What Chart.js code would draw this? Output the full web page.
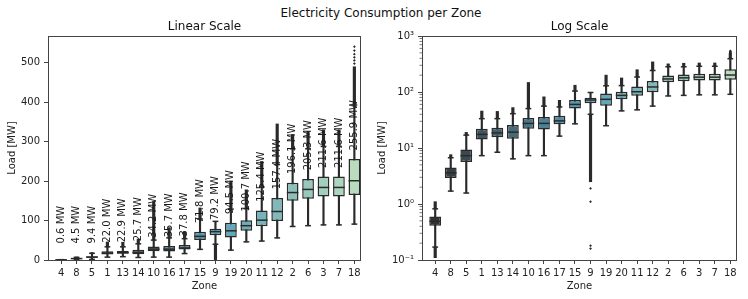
<!doctype html>
<html lang="en">
  <head>
    <meta charset="utf-8">
    <title>Electricity Consumption per Zone</title>
    <style>
      * {
        margin: 0;
        padding: 0;
      }
      body {
        width: 748px;
        height: 299px;
        background: #fff;
        position: relative;
        overflow: hidden;
        font-family: "DejaVu Sans", sans-serif;
      }
      .suptitle {
        position: absolute;
        left: 0;
        top: 6px;
        width: 762px;
        text-align: center;
        font-size: 12px;
        line-height: 14px;
        color: #111;
      }
      .panel {
        position: absolute;
        top: 0;
      }
      #leftPanel { left: 0; }
      #rightPanel { left: 370px; }
    </style>
  </head>
  <body>
    <div class="suptitle">Electricity Consumption per Zone</div>
    <div class="panel" id="leftPanel"><canvas id="linearChart" width="370" height="299"></canvas></div>
    <div class="panel" id="rightPanel"><canvas id="logChart" width="378" height="299"></canvas></div>

    <script src="https://cdn.jsdelivr.net/npm/chart.js"></script>
    <script>
    // data (MW)
    const zones = ['4','8','5','1','13','14','10','16','17','15','9','19','20','11','12','2','6','3','7','18'];
    const q1Load = [0.41, 2.9, 5.6, 14.2, 15.6, 14.6, 22.0, 21.5, 26.5, 50.5, 62.8, 57, 74, 85.6, 99, 150, 155, 161, 161, 165];
    const medianLoad = [0.49, 3.6, 7.3, 17.5, 18.6, 19.2, 27.5, 27.5, 30.5, 60, 72, 74, 87, 101, 123, 171, 179, 184, 184, 201];
    const q3Load = [0.6, 4.5, 9.4, 22.0, 22.9, 25.7, 34.2, 35.7, 37.8, 71.8, 79.2, 94.5, 100.7, 125.4, 157.4, 196.1, 205.3, 211.6, 211.6, 255.9];
    const whiskerLow = [0.17, 1.7, 1.57, 7.3, 8.4, 6.4, 7.3, 7.3, 16.3, 27, 40, 25, 46, 48, 56, 85, 87, 89, 89, 91];
    const whiskerHigh = [0.82, 6.7, 17, 33.4, 33.4, 41, 50.5, 56, 54, 104, 98, 129, 130, 185, 242, 282, 282, 288, 288, 393];
    const outlierTop = [1.1, 7.6, 19, 45.7, 45, 52.7, 148, 82, 71, 132, null, 200, 178, 250, 345, 318, 326, 330, 330, 490];
    const outlierBottom = [0.11, null, null, null, null, null, null, null, null, null, 2.5, null, null, null, null, null, null, null, null, null];
    const zone9LowOutliers = [1.9, 1.1, 0.18, 0.16];
    const zone18HighOutliers = [498, 506, 514, 522, 531, 541];
    const linearTicks = [0, 100, 200, 300, 400, 500];
    const logTicks = [0.1, 1, 10, 100, 1000];

    Chart.defaults.font.family = '"DejaVu Sans", sans-serif';
    Chart.defaults.font.size = 10;
    Chart.defaults.color = '#222';

    const lineGray = '#2a2a2a';
    const spineColor = '#444';

    // seaborn-like GnBu_d ramp, desaturated like a boxplot does
    function rgbToHls(r, g, b) {
      const mx = Math.max(r, g, b), mn = Math.min(r, g, b);
      const l = (mx + mn) / 2;
      if (mx === mn) return [0, l, 0];
      const d = mx - mn;
      const s = l <= 0.5 ? d / (mx + mn) : d / (2 - mx - mn);
      let h;
      if (r === mx) h = (g - b) / d;
      else if (g === mx) h = 2 + (b - r) / d;
      else h = 4 + (r - g) / d;
      h = ((h / 6) % 1 + 1) % 1;
      return [h, l, s];
    }
    function hlsToRgb(h, l, s) {
      if (s === 0) return [l, l, l];
      const m2 = l <= 0.5 ? l * (1 + s) : l + s - l * s;
      const m1 = 2 * l - m2;
      const v = (hh) => {
        hh = ((hh % 1) + 1) % 1;
        if (hh < 1 / 6) return m1 + (m2 - m1) * hh * 6;
        if (hh < 0.5) return m2;
        if (hh < 2 / 3) return m1 + (m2 - m1) * (2 / 3 - hh) * 6;
        return m1;
      };
      return [v(h + 1 / 3), v(h), v(h - 1 / 3)];
    }
    function makePalette(stops, n, sat) {
      const rgb = stops.map(h => [1, 3, 5].map(k => parseInt(h.substr(k, 2), 16) / 255));
      const out = [];
      for (let i = 0; i < n; i++) {
        const pos = i / (n - 1) * (rgb.length - 1);
        const k = Math.min(Math.floor(pos), rgb.length - 2);
        const f = pos - k;
        const c = rgb[k].map((v, j) => v + (rgb[k + 1][j] - v) * f);
        const hls = rgbToHls(c[0], c[1], c[2]);
        const d = hlsToRgb(hls[0], hls[1], hls[2] * sat);
        out.push('rgb(' + d.map(v => Math.round(v * 255)).join(',') + ')');
      }
      return out;
    }
    const boxColors = makePalette(['#333333', '#42a6cc', '#b4e2ba'], zones.length, 0.75);

    function supLabel(v) {
      const sup = {'-': '\u207b', '0': '\u2070', '1': '\u00b9', '2': '\u00b2', '3': '\u00b3'};
      const e = String(Math.round(Math.log10(v)));
      return '10' + e.split('').map(c => sup[c]).join('');
    }

    function buildDatasets() {
      const idx = zones.map((z, i) => i);
      return [
        {
          type: 'bar', order: 6, grouped: false, barThickness: 2.5,
          backgroundColor: lineGray,
          data: idx.filter(i => outlierTop[i] != null).map(i => ({x: i, y: [whiskerHigh[i], outlierTop[i]]}))
        },
        {
          type: 'bar', order: 6, grouped: false, barThickness: 2.5,
          backgroundColor: lineGray,
          data: idx.filter(i => outlierBottom[i] != null).map(i => ({x: i, y: [outlierBottom[i], whiskerLow[i]]}))
        },
        {
          type: 'bar', order: 5, grouped: false, barThickness: 1.5,
          backgroundColor: lineGray,
          data: idx.map(i => ({x: i, y: [whiskerLow[i], whiskerHigh[i]]}))
        },
        {
          type: 'bar', order: 4, grouped: false,
          barPercentage: 0.76, categoryPercentage: 1,
          backgroundColor: boxColors,
          borderColor: lineGray,
          borderWidth: 1.5,
          borderSkipped: false,
          data: idx.map(i => ({x: i, y: [q1Load[i], q3Load[i]]}))
        },
        {
          type: 'scatter', order: 3,
          pointStyle: 'rectRot', pointRadius: 1.4, pointBorderWidth: 0,
          pointBackgroundColor: lineGray,
          data: zone9LowOutliers.map(v => ({x: zones.indexOf('9'), y: v}))
            .concat(zone18HighOutliers.map(v => ({x: zones.indexOf('18'), y: v})))
        },
        {
          type: 'scatter', order: 2,
          pointStyle: 'line', pointRadius: 5.8, pointBorderWidth: 1.5,
          pointBorderColor: lineGray,
          data: idx.map(i => ({x: i, y: medianLoad[i]}))
        },
        {
          type: 'scatter', order: 1,
          pointStyle: 'line', pointRadius: 2.9, pointBorderWidth: 1.5,
          pointBorderColor: lineGray,
          data: idx.map(i => ({x: i, y: whiskerLow[i]})).concat(idx.map(i => ({x: i, y: whiskerHigh[i]})))
        }
      ];
    }

    // full box round the plot, like matplotlib spines
    const spinePlugin = {
      id: 'spines',
      afterDraw(chart) {
        const a = chart.chartArea, ctx = chart.ctx;
        ctx.save();
        ctx.strokeStyle = spineColor;
        ctx.lineWidth = 1;
        ctx.strokeRect(Math.round(a.left) + 0.5, Math.round(a.top) + 0.5,
          Math.round(a.right - a.left) - 1, Math.round(a.bottom - a.top));
        ctx.restore();
      }
    };

    // subplot title centred over the plot area, not the canvas
    const subTitlePlugin = {
      id: 'subTitle',
      afterDraw(chart, args, opts) {
        const a = chart.chartArea, ctx = chart.ctx;
        ctx.save();
        ctx.font = '12px "DejaVu Sans", sans-serif';
        ctx.fillStyle = '#111';
        ctx.textAlign = 'center';
        ctx.textBaseline = 'middle';
        ctx.fillText(opts.text, (a.left + a.right) / 2, 27);
        ctx.restore();
      }
    };

    const q3LabelPlugin = {
      id: 'q3Labels',
      afterDatasetsDraw(chart) {
        const ctx = chart.ctx, xs = chart.scales.x, ys = chart.scales.y;
        ctx.save();
        ctx.font = '10px "DejaVu Sans", sans-serif';
        ctx.fillStyle = '#1a1a1a';
        ctx.textAlign = 'left';
        ctx.textBaseline = 'middle';
        q3Load.forEach((v, i) => {
          const x = xs.getPixelForValue(i);
          const y = ys.getPixelForValue(Math.max(v + 22, 42));
          ctx.save();
          ctx.translate(x, y);
          ctx.rotate(-Math.PI / 2);
          ctx.fillText(v.toFixed(1) + ' MW', 0, 0);
          ctx.restore();
        });
        ctx.restore();
      }
    };

    const minorTickPlugin = {
      id: 'minorTicks',
      afterDraw(chart) {
        const ctx = chart.ctx, ys = chart.scales.y, left = chart.chartArea.left;
        ctx.save();
        ctx.strokeStyle = spineColor;
        ctx.lineWidth = 0.7;
        logTicks.slice(0, -1).forEach(d => {
          for (let m = 2; m <= 9; m++) {
            const y = ys.getPixelForValue(d * m);
            ctx.beginPath();
            ctx.moveTo(left - 2.5, y);
            ctx.lineTo(left, y);
            ctx.stroke();
          }
        });
        ctx.restore();
      }
    };

    function makeChart(canvasId, logScale, titleText, yAxisWidth, rightPad) {
      const yScale = logScale ? {
        type: 'logarithmic', min: 0.1, max: 1000,
        afterBuildTicks: s => { s.ticks = logTicks.map(v => ({value: v})); },
        ticks: {callback: v => supLabel(v), padding: 4}
      } : {
        type: 'linear', min: 0, max: 568,
        afterBuildTicks: s => { s.ticks = linearTicks.map(v => ({value: v})); },
        ticks: {padding: 4}
      };
      Object.assign(yScale, {
        afterFit: s => { s.width = yAxisWidth; },
        border: {display: false},
        grid: {drawOnChartArea: false, tickLength: 4, tickColor: spineColor, tickWidth: 1},
        title: {display: true, text: 'Load [MW]', font: {size: 10}, padding: {top: 6, bottom: 0}}
      });

      return new Chart(document.getElementById(canvasId), {
        type: 'bar',
        data: {datasets: buildDatasets()},
        options: {
          responsive: false,
          animation: false,
          layout: {padding: {top: 36, right: rightPad, bottom: 0, left: 0}},
          plugins: {
            legend: {display: false},
            tooltip: {enabled: false},
            subTitle: {text: titleText}
          },
          scales: {
            x: {
              type: 'linear', min: -0.85, max: 19.43, offset: false,
              afterBuildTicks: s => { s.ticks = zones.map((z, i) => ({value: i})); },
              afterFit: s => { s.height = 39; },
              ticks: {callback: v => zones[v], autoSkip: false, maxRotation: 0, padding: 3},
              border: {display: false},
              grid: {offset: false, drawOnChartArea: false, tickLength: 4, tickColor: spineColor, tickWidth: 1},
              title: {display: true, text: 'Zone', font: {size: 10}, padding: {top: 0, bottom: 7}}
            },
            y: yScale
          }
        },
        plugins: logScale ? [spinePlugin, subTitlePlugin, minorTickPlugin] : [spinePlugin, subTitlePlugin, q3LabelPlugin]
      });
    }

    makeChart('linearChart', false, 'Linear Scale', 48, 9);
    makeChart('logChart', true, 'Log Scale', 52, 11);
    </script>
  </body>
</html>
